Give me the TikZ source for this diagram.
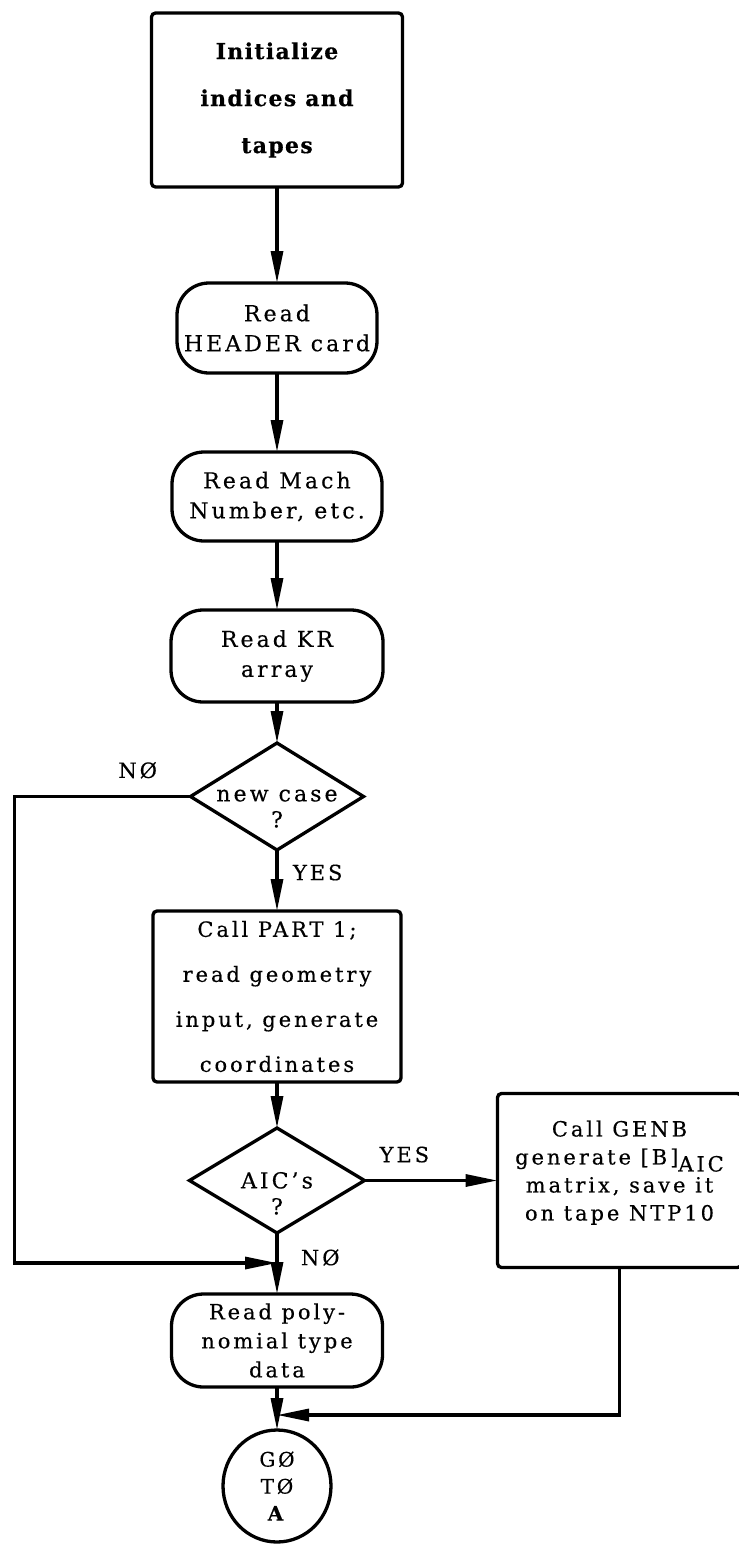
\documentclass[tikz,border=0pt]{standalone}
\usepackage{fontspec}
\setmainfont{DejaVu Serif}[LetterSpace=14, FakeBold=0.4]
\usetikzlibrary{
  positioning,      % below=of ...
  shapes.geometric, % diamond and ellipse
  arrows.meta
}
\tikzset{
    every node/.style = {
        font=\fontsize{22}{30}\selectfont,
        align=center,
        outer sep=0pt,
        inner sep=0pt
    },
    box/.style = {draw, rectangle, rounded corners=4pt},
    terminal/.style = {draw, rectangle, rounded corners=32pt},
    decision/.style = {draw, diamond, inner sep=-30pt},
    connector/.style = {draw, ellipse},
    lbl/.style = {draw=none, font=\fontsize{21}{26}\selectfont}
}

\begin{document}
\begin{tikzpicture}[x=1pt, y=1pt, line width=3.3pt, ->, >={Triangle[length=32pt,width=12pt]}]
  \useasboundingbox (0,0) rectangle (739,-1545);

  %% main column
  \node [box, minimum width=251pt, minimum height=174pt, font=\fontsize{22}{47}\selectfont\bfseries\addfontfeature{LetterSpace=6}] (init) at (277,-100) {Initialize\\indices and\\tapes};
  \node [terminal, below=96pt of init, minimum width=200pt, minimum height=90pt] (header) {Read\\HEADER card};
  \node [terminal, below=79pt of header, minimum width=210pt, minimum height=89pt] (mach) {Read Mach\\Number, etc.};
  \node [terminal, below=69pt of mach, minimum width=212pt, minimum height=92pt] (kr) {Read KR\\array};
  \node [decision, below=41pt of kr, minimum width=173pt, minimum height=107pt] (newcase) {\mbox{}\\[6pt]new case\\[-4pt]?};
  \node [box, below=61pt of newcase, minimum width=248pt, minimum height=171pt, font=\fontsize{21}{45}\selectfont] (part1) {Call PART 1;\\read geometry\\input, generate\\coordinates};
  \node [decision, below=46pt of part1, minimum width=175pt, minimum height=105pt] (aic) {\mbox{}\\[12pt]AIC's\\[-4pt]?};
  \node [terminal, below=61pt of aic, minimum width=211pt, minimum height=93pt, font=\fontsize{21}{29}\selectfont] (poly) {Read poly-\\nomial type\\data};
  \node [connector, below=43pt of poly, minimum width=108pt, minimum height=112pt, font=\fontsize{20}{27}\selectfont] (goA) {GØ\\TØ\\\textbf{A}};

  %% side box
  \node [box, right=133pt of aic, minimum width=244pt, minimum height=174pt, font=\fontsize{21}{28}\selectfont] (genb) {Call GENB\\generate [B]\raisebox{-7pt}{AIC}\\matrix, save it\\on tape NTP10\\[-8pt]\mbox{}};

  \coordinate [below=30pt of aic.south] (noin);
  \coordinate [below=28pt of poly.south] (join);

  %% flow
  \draw (init) to (header);
  \draw (header) to (mach);
  \draw (mach) to (kr);
  \draw (kr) to (newcase);
  \draw (newcase) to node [lbl, right=16pt, yshift=8pt] {YES} (part1);
  \draw (part1) to (aic);
  \draw (aic) to node [lbl, above=18pt, pos=0.3] {YES} (genb);
  \draw (aic) to node [lbl, right=24pt, yshift=6pt] {NØ} (poly);
  \draw (newcase.west) -- node [lbl, above=18pt, pos=0.3] {NØ} ++(-176pt,0) |- (noin);
  \draw (genb) |- (join);
  \draw (poly) to (goA);

\end{tikzpicture}
\end{document}
